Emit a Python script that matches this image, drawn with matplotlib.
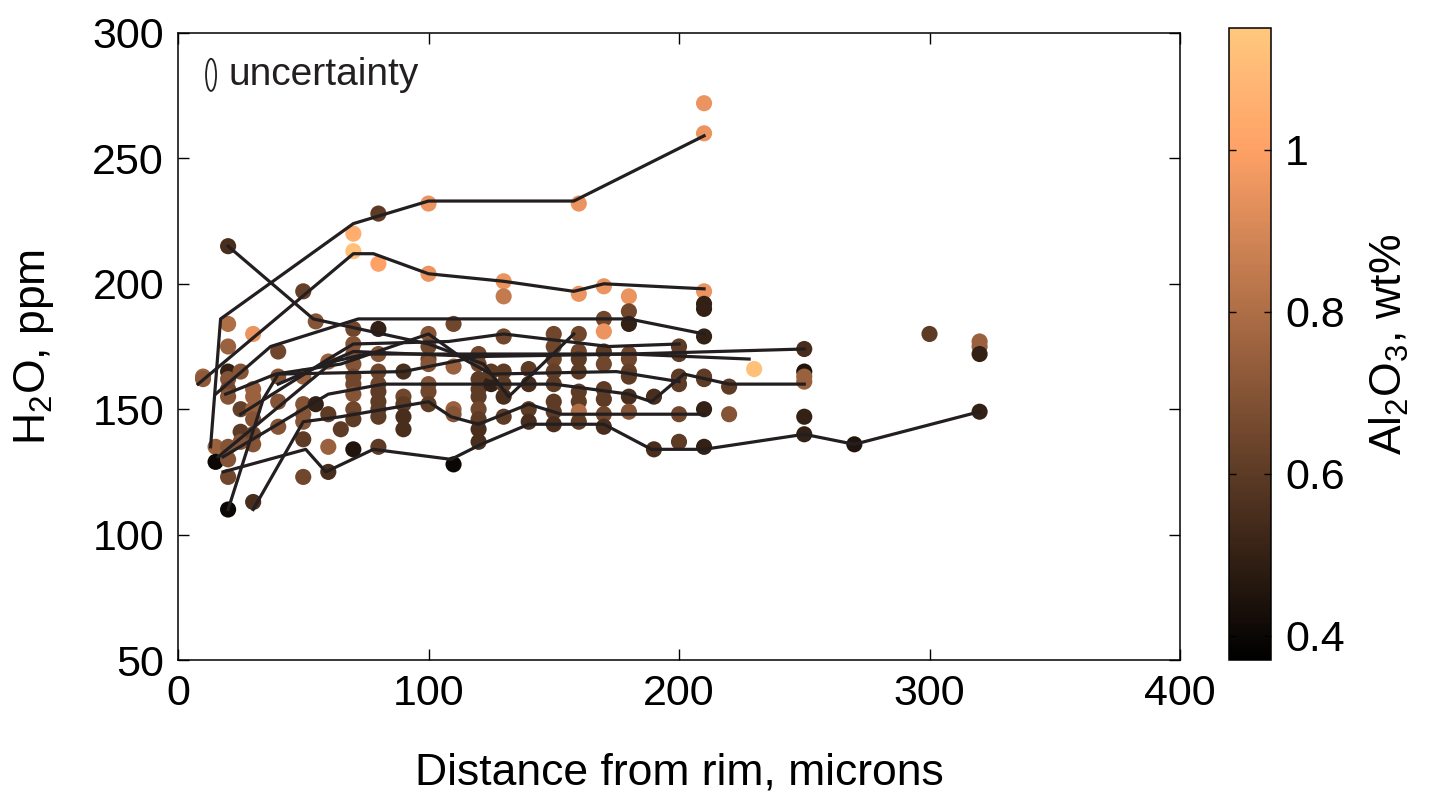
import numpy as np
import matplotlib
matplotlib.use("Agg")
import matplotlib.pyplot as plt
from matplotlib.patches import Ellipse

plt.rcParams['font.family'] = ['Liberation Sans', 'DejaVu Sans']
plt.rcParams['mathtext.fontset'] = 'custom'
plt.rcParams['mathtext.rm'] = 'Liberation Sans'
plt.rcParams['mathtext.default'] = 'regular'

# measured spots: distance (microns), water (ppm), Al2O3 (wt%)
dist = [10, 10, 15, 15,
        20, 20, 20, 20, 20, 20, 20, 20, 20, 20, 20,
        25, 25, 25, 25,
        30, 30, 30, 30, 30, 30, 30, 30,
        40, 40, 40, 40,
        50, 50, 50, 50, 50, 50, 50,
        55, 55, 60, 60, 60, 60, 65,
        70, 70, 70, 70, 70, 70, 70, 70, 70, 70, 70, 70,
        80, 80, 80, 80, 80, 80, 80, 80, 80, 80, 80,
        90, 90, 90, 90, 90,
        100, 100, 100, 100, 100, 100, 100, 100, 100,
        110, 110, 110, 110, 110,
        120, 120, 120, 120, 120, 120, 120, 120, 120,
        125, 125,
        130, 130, 130, 130, 130, 130, 130,
        140, 140, 140, 140,
        150, 150, 150, 150, 150, 150, 150, 150,
        160, 160, 160, 160, 160, 160, 160, 160, 160, 160,
        170, 170, 170, 170, 170, 170, 170, 170, 170,
        180, 180, 180, 180, 180, 180, 180, 180, 180,
        190, 190,
        200, 200, 200, 200, 200, 200,
        210, 210, 210, 210, 210, 210, 210, 210, 210, 210,
        220, 220, 230,
        250, 250, 250, 250, 250, 250,
        270, 300, 320, 320, 320, 320]
h2o = [163, 162, 135, 129,
       215, 184, 175, 165, 162, 158, 155, 135, 130, 123, 110,
       165, 150, 141, 137,
       180, 158, 155, 150, 146, 140, 136, 113,
       173, 163, 153, 143,
       197, 163, 152, 148, 145, 138, 123,
       185, 152, 169, 148, 135, 125, 142,
       220, 213, 182, 176, 172, 168, 163, 160, 156, 150, 146, 134,
       228, 208, 182, 172, 165, 160, 157, 153, 150, 147, 135,
       165, 155, 152, 147, 142,
       232, 204, 180, 175, 170, 168, 160, 157, 152,
       184, 167, 150, 148, 128,
       172, 168, 162, 158, 155, 150, 146, 142, 137,
       160, 165,
       201, 195, 179, 165, 160, 155, 147,
       166, 160, 150, 145,
       180, 175, 170, 165, 160, 153, 149, 144,
       232, 196, 180, 173, 170, 165, 157, 153, 149, 145,
       199, 186, 181, 173, 168, 158, 154, 148, 143,
       195, 189, 184, 172, 170, 165, 163, 155, 149,
       155, 134,
       175, 172, 163, 160, 148, 137,
       272, 260, 197, 192, 190, 179, 163, 162, 150, 135,
       159, 148, 166,
       174, 165, 163, 161, 147, 140,
       136, 180, 177, 175, 172, 149]
al2o3 = [0.75, 0.72, 0.75, 0.40,
         0.55, 0.80, 0.75, 0.50, 0.70, 0.65, 0.70, 0.70, 0.70, 0.65, 0.40,
         0.70, 0.62, 0.60, 0.70,
         0.95, 0.75, 0.75, 0.75, 0.70, 0.65, 0.70, 0.55,
         0.65, 0.70, 0.70, 0.70,
         0.62, 0.75, 0.70, 0.70, 0.70, 0.60, 0.65,
         0.70, 0.50, 0.75, 0.60, 0.75, 0.55, 0.60,
         1.05, 1.12, 0.65, 0.70, 0.70, 0.70, 0.65, 0.65, 0.70, 0.65, 0.60, 0.45,
         0.60, 1.00, 0.50, 0.70, 0.65, 0.65, 0.60, 0.60, 0.60, 0.60, 0.60,
         0.55, 0.65, 0.60, 0.55, 0.55,
         0.95, 0.95, 0.70, 0.65, 0.65, 0.70, 0.70, 0.65, 0.60,
         0.65, 0.75, 0.75, 0.70, 0.40,
         0.65, 0.65, 0.60, 0.60, 0.60, 0.65, 0.60, 0.55, 0.55,
         0.50, 0.60,
         0.95, 0.85, 0.65, 0.60, 0.60, 0.55, 0.60,
         0.60, 0.55, 0.60, 0.55,
         0.65, 0.65, 0.65, 0.62, 0.60, 0.60, 0.60, 0.55,
         0.95, 0.95, 0.65, 0.65, 0.60, 0.60, 0.60, 0.60, 0.80, 0.60,
         0.95, 0.65, 0.95, 0.60, 0.65, 0.60, 0.60, 0.65, 0.55,
         0.95, 0.65, 0.50, 0.65, 0.65, 0.62, 0.60, 0.55, 0.70,
         0.55, 0.55,
         0.60, 0.60, 0.60, 0.60, 0.65, 0.60,
         0.95, 0.95, 0.95, 0.50, 0.50, 0.50, 0.60, 0.60, 0.50, 0.50,
         0.60, 0.70, 1.12,
         0.55, 0.45, 0.75, 0.75, 0.50, 0.50,
         0.45, 0.60, 0.75, 0.75, 0.50, 0.50]

# profile traces (distance, water)
profiles = [
    ([13, 17, 70, 100, 158, 210], [135, 186, 224, 233, 233, 259]),
    ([8, 70, 78, 100, 130, 158, 170, 210], [160, 212, 212, 204, 201, 197, 200, 198]),
    ([20, 54, 100, 122, 132, 158], [215, 186, 176, 168, 155, 180]),
    ([15, 37, 72, 180, 210], [156, 175, 186, 186, 180]),
    ([19, 39, 65, 100, 114, 125, 175, 200], [156, 164, 168, 180, 170, 164, 165, 161]),
    ([25, 60, 70, 108, 130, 172, 200], [148, 170, 176, 177, 180, 175, 176]),
    ([16, 62, 75, 125, 180, 250], [131, 169, 172, 172, 172, 174]),
    ([40, 70, 120, 180, 228], [160, 173, 171, 172, 170]),
    ([18, 60, 82, 150, 180, 189, 202, 220, 250], [131, 156, 160, 160, 156, 153, 164, 160, 160]),
    ([30, 50, 65, 100, 109, 120, 140, 153, 210], [110, 145, 147, 153, 147, 144, 152, 148, 148]),
    ([18, 51, 59, 78, 109, 121, 140, 170, 189, 210, 250, 270, 320],
     [125, 134, 125, 134, 130, 136, 144, 144, 134, 134, 140, 136, 149]),
    ([20, 34, 40, 90, 120], [110, 154, 164, 165, 171]),
]

fig = plt.figure(figsize=(14.52, 7.95), dpi=100)
ax = fig.add_axes([178/1452, 1-660/795, 1002/1452, 627/795])
cax = fig.add_axes([1229/1452, 1-660/795, 42/1452, 632/795])

sc = ax.scatter(dist, h2o, c=al2o3, cmap='copper', vmin=0.37, vmax=1.15,
                s=135, edgecolors='none', zorder=2)
for px, py in profiles:
    ax.plot(px, py, color='#231f20', lw=2.3, zorder=3)

ax.add_patch(Ellipse((13.2, 283.3), 4.0, 12.8, fill=False, ec='#231f20', lw=1.3))
ax.text(20, 283.3, 'uncertainty', fontsize=28, va='center', ha='left', color='#231f20')

ax.set_xlim(0, 400)
ax.set_ylim(50, 300)
ax.set_xticks([0, 100, 200, 300, 400])
ax.set_yticks([50, 100, 150, 200, 250, 300])
ax.tick_params(direction='in', length=8, width=1, top=True, right=True,
               labelsize=31, pad=10)
for s in ax.spines.values():
    s.set_linewidth(1.1)
ax.set_xlabel('Distance from rim, microns', fontsize=32, labelpad=28)
ax.set_ylabel('H$_2$O, ppm', fontsize=32, labelpad=26)

cb = fig.colorbar(sc, cax=cax)
cb.set_ticks([0.4, 0.6, 0.8, 1.0])
cb.set_ticklabels(['0.4', '0.6', '0.8', '1'])
cax.tick_params(direction='in', length=5, width=1, left=True, right=True,
                labelsize=31, pad=10)
cb.outline.set_linewidth(1.1)
cb.set_label('Al$_2$O$_3$, wt%', fontsize=32, labelpad=17)

fig.savefig('out.png', dpi=100)
